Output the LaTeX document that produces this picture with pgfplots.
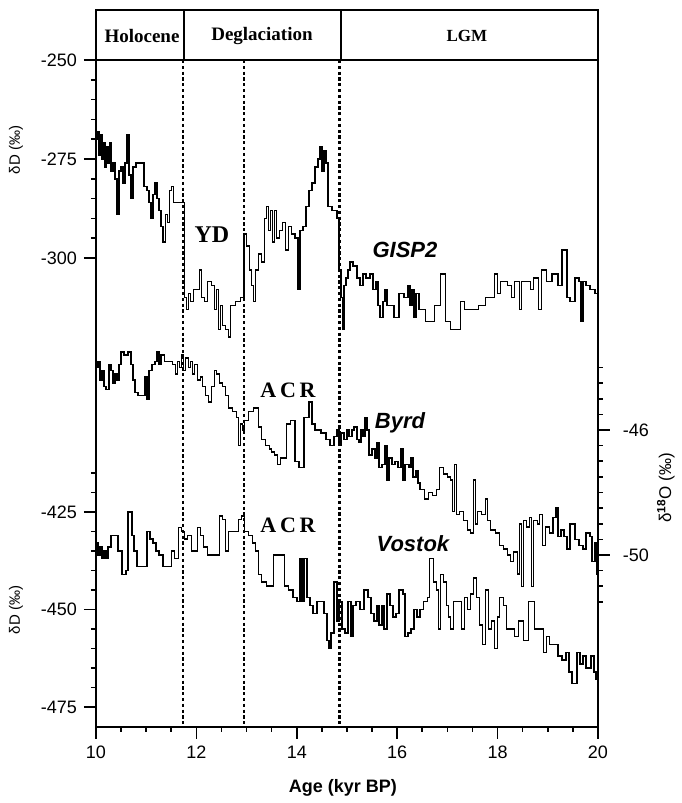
\documentclass[border=0pt]{standalone}
\usepackage{pgfplots}
\pgfplotsset{compat=1.18}
\usepackage{fontspec}
\setmainfont{Liberation Sans}
\newfontfamily\tnr{Liberation Serif}
\begin{document}
\begin{tikzpicture}
\pgfplotsset{base/.style={width=251pt,height=358.5pt,scale only axis,xmin=10,xmax=20,
  tick align=outside, major tick length=6pt, minor tick length=2.5pt,
  every tick/.style={line width=0.8pt,black},
  tick label style={font=\fontsize{9}{10}\selectfont}}}
% ---------------- GISP2 (upper left scale) and frame
\begin{axis}[base, name=ax, ymin=-418.43, ymax=-237.37,
  axis line style={line width=1pt},
  xtick={10,12,14,16,18,20}, xticklabels={10,12,14,16,18,20},
  minor xtick={10.5,11,...,19.5},
  xtick pos=bottom, ytick pos=left,
  ytick={-250,-275,-300}, yticklabels={-250,-275,-300},
  minor ytick={-255,-260,...,-295}]
\addplot[const plot, line width=0.75pt, black] coordinates {
(10.00,-270) (10.03,-268) (10.06,-274) (10.09,-269) (10.12,-275) (10.15,-271) (10.18,-277) (10.21,-272) (10.24,-276) (10.27,-271) (10.30,-278) (10.34,-276) (10.38,-280) (10.42,-289) (10.46,-278) (10.50,-277) (10.54,-281) (10.58,-276) (10.62,-269) (10.66,-279) (10.70,-285) (10.74,-277) (10.80,-276) (10.90,-276) (10.96,-282) (11.02,-283) (11.06,-286) (11.10,-290) (11.14,-284) (11.18,-281) (11.22,-285) (11.26,-288) (11.30,-292) (11.34,-296) (11.38,-289) (11.42,-291) (11.46,-283) (11.50,-282) (11.54,-286) (11.64,-286) (11.76,-310) (11.80,-313) (11.84,-309) (11.88,-311) (11.94,-308) (12.00,-308) (12.06,-303) (12.10,-310) (12.16,-311) (12.22,-306) (12.30,-307) (12.36,-313) (12.40,-308) (12.44,-318) (12.48,-312) (12.52,-317) (12.58,-318) (12.64,-320) (12.68,-312) (12.78,-311) (12.88,-310) (12.95,-294) (13.00,-297) (13.06,-303) (13.10,-307) (13.14,-311) (13.18,-303) (13.24,-299) (13.30,-301) (13.36,-290) (13.40,-287) (13.44,-293) (13.48,-288) (13.52,-296) (13.56,-288) (13.60,-295) (13.66,-293) (13.72,-291) (13.78,-298) (13.84,-292) (13.90,-294) (13.96,-295) (14.02,-308) (14.06,-293) (14.12,-292) (14.18,-287) (14.24,-283) (14.30,-281) (14.36,-277) (14.42,-275) (14.46,-272) (14.50,-278) (14.54,-273) (14.58,-276) (14.62,-287) (14.70,-288) (14.80,-290) (14.84,-303) (14.88,-310) (14.91,-318) (14.94,-307) (14.98,-305) (15.02,-303) (15.06,-301) (15.12,-302) (15.20,-305) (15.26,-307) (15.32,-304) (15.38,-305) (15.46,-304) (15.52,-308) (15.58,-306) (15.62,-312) (15.66,-315) (15.72,-311) (15.76,-308) (15.80,-312) (15.90,-312) (15.94,-315) (16.04,-309) (16.14,-310) (16.22,-307) (16.26,-312) (16.30,-308) (16.34,-315) (16.38,-309) (16.44,-313) (16.50,-313) (16.56,-316) (16.66,-316) (16.74,-312) (16.86,-304) (16.96,-316) (17.06,-318) (17.26,-311) (17.34,-313) (17.48,-313) (17.62,-312) (17.76,-310) (17.84,-310) (17.94,-304) (18.00,-309) (18.06,-306) (18.20,-307) (18.28,-310) (18.34,-306) (18.44,-313) (18.48,-306) (18.66,-308) (18.72,-305) (18.82,-313) (18.88,-303) (18.98,-306) (19.08,-304) (19.20,-307) (19.28,-298) (19.38,-310) (19.44,-311) (19.54,-305) (19.62,-306) (19.66,-316) (19.70,-306) (19.76,-307) (19.84,-308) (19.94,-309) (20.00,-309)};
% header band
\draw[line width=1pt] (axis cs:10,-250) -- (axis cs:20,-250);
\draw[line width=1pt] (axis cs:11.76,-250) -- (axis cs:11.76,-237.37);
\draw[line width=1pt] (axis cs:14.89,-250) -- (axis cs:14.89,-237.37);
% period boundaries
\draw[line width=1.1pt, dash pattern=on 1.6pt off 1.3pt] (axis cs:11.74,-250) -- (axis cs:11.74,-418.43);
\draw[line width=1.1pt, dash pattern=on 1.6pt off 1.3pt] (axis cs:12.95,-250) -- (axis cs:12.95,-418.43);
\draw[line width=1.1pt, dash pattern=on 1.6pt off 1.3pt] (axis cs:14.85,-250) -- (axis cs:14.85,-418.43);
\end{axis}
% ---------------- Vostok (lower left scale)
\begin{axis}[base, ymin=-480.13, ymax=-296.3, hide x axis, axis y line*=left,
  axis line style={draw=none},
  ytick={-425,-450,-475}, yticklabels={-425,-450,-475},
  minor ytick={-415,-420,-430,-435,-440,-445,-455,-460,-465,-470}]
\addplot[const plot, line width=0.75pt, black] coordinates {
(10.00,-433) (10.04,-436) (10.08,-434) (10.12,-437) (10.16,-435) (10.20,-437) (10.24,-434) (10.30,-431) (10.40,-431) (10.44,-435) (10.48,-435) (10.52,-441) (10.60,-440) (10.64,-425) (10.72,-431) (10.76,-435) (10.82,-439) (10.98,-439) (11.02,-430) (11.08,-432) (11.14,-433) (11.20,-435) (11.26,-436) (11.34,-439) (11.46,-439) (11.50,-435) (11.56,-437) (11.64,-429) (11.70,-430) (11.76,-432) (11.82,-431) (11.90,-435) (11.98,-435) (12.02,-429) (12.08,-431) (12.14,-434) (12.22,-436) (12.40,-436) (12.46,-426) (12.52,-427) (12.58,-435) (12.64,-430) (12.72,-430) (12.80,-430) (12.84,-427) (12.90,-426) (12.96,-430) (13.04,-431) (13.12,-433) (13.18,-435) (13.24,-441) (13.30,-443) (13.40,-444) (13.48,-444) (13.54,-436) (13.70,-436) (13.76,-444) (13.84,-445) (13.92,-447) (14.00,-448) (14.06,-437) (14.10,-448) (14.14,-437) (14.20,-447) (14.26,-449) (14.32,-451) (14.40,-448) (14.48,-448) (14.54,-451) (14.60,-458) (14.64,-460) (14.68,-456) (14.74,-443) (14.80,-453) (14.84,-448) (14.90,-455) (14.96,-456) (15.02,-448) (15.08,-457) (15.12,-449) (15.18,-448) (15.26,-450) (15.34,-445) (15.42,-447) (15.48,-451) (15.54,-453) (15.60,-449) (15.64,-454) (15.70,-449) (15.74,-455) (15.80,-446) (15.86,-449) (15.92,-452) (15.98,-451) (16.04,-445) (16.12,-446) (16.16,-457) (16.22,-456) (16.28,-455) (16.34,-450) (16.40,-452) (16.46,-450) (16.52,-448) (16.60,-447) (16.64,-437) (16.72,-443) (16.78,-445) (16.82,-455) (16.86,-441) (16.92,-443) (16.98,-449) (17.02,-452) (17.06,-455) (17.12,-448) (17.20,-448) (17.28,-455) (17.34,-447) (17.40,-450) (17.46,-446) (17.52,-442) (17.58,-447) (17.64,-454) (17.70,-459) (17.76,-445) (17.82,-455) (17.88,-453) (17.94,-460) (18.00,-452) (18.04,-447) (18.12,-449) (18.18,-455) (18.30,-455) (18.34,-457) (18.42,-453) (18.52,-458) (18.62,-448) (18.74,-455) (18.88,-455) (18.92,-461) (18.98,-457) (19.04,-459) (19.12,-459) (19.20,-462) (19.28,-463) (19.36,-461) (19.42,-466) (19.48,-469) (19.58,-461) (19.64,-464) (19.70,-462) (19.76,-465) (19.86,-462) (19.92,-466) (19.96,-468) (20.00,-466)};
\end{axis}
% ---------------- Byrd (right scale)
\begin{axis}[base, ymin=-55.5, ymax=-32.56, hide x axis, axis y line*=right,
  axis line style={draw=none},
  ytick={-46,-50}, yticklabels={-46,-50},
  yticklabel style={xshift=3pt},
  minor ytick={-44,-44.5,-45,-45.5,-46.5,-47,-47.5,-48,-48.5,-49,-49.5,-50.5,-51,-51.5}]
\addplot[const plot, line width=0.75pt, black] coordinates {
(10.00,-44.0) (10.04,-43.8) (10.08,-44.4) (10.12,-44.1) (10.16,-44.6) (10.20,-44.7) (10.26,-43.9) (10.30,-44.1) (10.34,-44.5) (10.38,-44.2) (10.42,-44.4) (10.46,-43.9) (10.50,-43.5) (10.56,-43.6) (10.64,-43.5) (10.70,-43.9) (10.74,-44.4) (10.78,-44.8) (10.84,-44.9) (10.94,-44.9) (10.98,-44.3) (11.02,-45.0) (11.06,-44.1) (11.12,-43.9) (11.18,-43.8) (11.22,-43.5) (11.26,-43.9) (11.30,-43.6) (11.36,-43.8) (11.44,-43.8) (11.52,-43.9) (11.58,-44.2) (11.62,-43.8) (11.66,-44.0) (11.70,-43.6) (11.74,-44.1) (11.78,-43.7) (11.84,-44.0) (11.88,-43.8) (11.92,-44.2) (11.96,-43.9) (12.02,-44.4) (12.08,-44.3) (12.12,-44.6) (12.18,-44.9) (12.24,-45.1) (12.30,-44.6) (12.36,-44.1) (12.40,-44.2) (12.46,-44.5) (12.52,-44.6) (12.58,-44.9) (12.64,-45.3) (12.72,-45.4) (12.80,-45.6) (12.84,-46.5) (12.88,-45.8) (12.92,-46.0) (12.96,-45.7) (13.04,-45.4) (13.14,-45.3) (13.24,-45.9) (13.30,-46.3) (13.38,-46.5) (13.46,-46.6) (13.50,-46.7) (13.56,-46.8) (13.62,-47.1) (13.68,-46.9) (13.80,-45.8) (13.88,-45.7) (13.96,-47.0) (14.04,-47.2) (14.14,-45.6) (14.24,-45.1) (14.30,-45.8) (14.36,-46.0) (14.48,-46.1) (14.58,-46.3) (14.66,-46.5) (14.74,-46.2) (14.80,-46.0) (14.84,-46.5) (14.88,-46.1) (14.94,-46.3) (15.00,-46.0) (15.04,-46.2) (15.10,-46.0) (15.14,-45.9) (15.20,-46.3) (15.24,-46.4) (15.28,-46.0) (15.32,-46.2) (15.36,-45.6) (15.40,-46.0) (15.44,-46.8) (15.50,-46.6) (15.56,-46.9) (15.60,-46.4) (15.64,-47.2) (15.70,-47.1) (15.76,-46.5) (15.80,-47.6) (15.84,-46.9) (15.90,-47.1) (15.96,-47.0) (16.02,-47.2) (16.08,-46.6) (16.12,-47.6) (16.16,-47.1) (16.24,-47.2) (16.28,-46.9) (16.32,-47.5) (16.38,-47.3) (16.42,-47.7) (16.46,-47.9) (16.54,-48.2) (16.62,-48.0) (16.70,-48.1) (16.78,-47.9) (16.84,-47.2) (16.92,-47.4) (17.00,-47.5) (17.06,-47.6) (17.10,-48.6) (17.14,-47.1) (17.18,-48.7) (17.24,-48.6) (17.32,-48.9) (17.40,-49.2) (17.46,-49.3) (17.52,-47.6) (17.56,-49.0) (17.60,-48.6) (17.68,-48.7) (17.76,-48.2) (17.80,-48.9) (17.86,-49.2) (17.96,-49.3) (18.04,-49.7) (18.12,-49.8) (18.20,-50.0) (18.26,-50.2) (18.32,-49.9) (18.40,-50.6) (18.44,-49.0) (18.48,-51.0) (18.52,-48.9) (18.58,-49.1) (18.64,-48.8) (18.68,-51.0) (18.72,-48.9) (18.80,-49.0) (18.84,-48.7) (18.90,-49.7) (18.96,-49.1) (19.04,-49.3) (19.10,-48.8) (19.16,-48.5) (19.20,-49.4) (19.26,-49.2) (19.32,-49.4) (19.38,-49.8) (19.44,-49.0) (19.54,-49.5) (19.62,-49.7) (19.70,-49.8) (19.76,-49.3) (19.84,-49.4) (19.88,-50.2) (19.94,-49.6) (19.98,-50.6) (20.00,-50.4)};
\end{axis}
% ---------------- annotations in picture pixel frame
\begin{scope}[shift={(ax.south west)}, x=0.5pt, y=-0.5pt, shift={(-96,-727)}]
\path (0,0) rectangle (680,803);
\node[font=\tnr\bfseries\fontsize{9.5}{10}\selectfont] at (142,36) {Holocene};
\node[font=\tnr\bfseries\fontsize{9.5}{10}\selectfont] at (262,36) {Deglaciation};
\node[font=\tnr\bfseries\fontsize{8.5}{10}\selectfont] at (467,36) {LGM};
\node[font=\tnr\bfseries\fontsize{12}{13}\selectfont] at (212,235) {YD};
\node[font=\tnr\bfseries\fontsize{11}{12}\selectfont] at (288,390) {A\,C\,R};
\node[font=\tnr\bfseries\fontsize{11}{12}\selectfont] at (288,525) {A\,C\,R};
\node[font=\bfseries\itshape\fontsize{11}{12}\selectfont] at (405,250) {GISP2};
\node[font=\bfseries\itshape\fontsize{11}{12}\selectfont] at (400,423) {Byrd};
\node[font=\bfseries\itshape\fontsize{11}{12}\selectfont] at (413,544) {Vostok};
\node[rotate=90, font=\fontsize{7.5}{8}\selectfont] at (16,150) {δD (‰)};
\node[rotate=90, font=\fontsize{7.5}{8}\selectfont] at (16,610) {δD (‰)};
\node[rotate=90, font=\fontsize{8.5}{9}\selectfont] at (666,488) {δ\textsuperscript{\textbf{18}}O (‰)};
\node[font=\bfseries\fontsize{9}{10}\selectfont] at (343,788) {Age (kyr BP)};
\end{scope}
\end{tikzpicture}
\end{document}
